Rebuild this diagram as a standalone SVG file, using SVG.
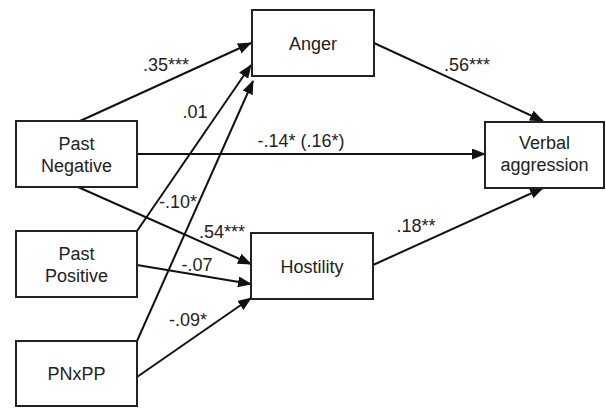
<svg xmlns="http://www.w3.org/2000/svg" width="606" height="408" viewBox="0 0 606 408">
<style>
.box{fill:#fff;stroke:#222;stroke-width:2}
.t{font-family:"Liberation Sans",Arial,sans-serif;font-size:18px;fill:#222;text-anchor:middle}
.e{stroke:#111;stroke-width:2;fill:none;marker-end:url(#ah)}
</style>
<defs>
<marker id="ah" markerUnits="userSpaceOnUse" markerWidth="14" markerHeight="12" refX="13" refY="5.5" orient="auto">
<path d="M0,0 L14,5.5 L0,11 Z" fill="#111"/>
</marker>
</defs>
<rect width="606" height="408" fill="#fff"/>
<g id="connectors">
<line class="e" x1="80" y1="121" x2="251" y2="43"/>
<line class="e" x1="137" y1="231" x2="251" y2="65"/>
<line class="e" x1="137" y1="341" x2="253" y2="81"/>
<line class="e" x1="137" y1="154" x2="485" y2="154"/>
<line class="e" x1="78" y1="187" x2="251" y2="264"/>
<line class="e" x1="137" y1="265" x2="251" y2="284"/>
<line class="e" x1="137" y1="377" x2="251" y2="298"/>
<line class="e" x1="374" y1="43" x2="543" y2="121"/>
<line class="e" x1="373" y1="265" x2="543" y2="188"/>
</g>
<g id="labels">
<text class="t" x="166" y="71">.35***</text>
<text class="t" x="195" y="118">.01</text>
<text class="t" x="178" y="208">-.10*</text>
<text class="t" x="222" y="238">.54***</text>
<text class="t" x="197" y="271">-.07</text>
<text class="t" x="188" y="326">-.09*</text>
<text class="t" x="301" y="147">-.14* (.16*)</text>
<text class="t" x="467" y="71">.56***</text>
<text class="t" x="416" y="232">.18**</text>
</g>
<g id="anger"><rect class="box" x="252" y="10" width="122" height="66"/><text class="t" x="313" y="50">Anger</text></g>
<g id="hostility"><rect class="box" x="251" y="233" width="122" height="66"/><text class="t" x="312" y="273">Hostility</text></g>
<g id="verbal"><rect class="box" x="485" y="122" width="119" height="66"/><text class="t" x="544.5" y="149">Verbal</text><text class="t" x="544.5" y="171">aggression</text></g>
<g id="pastneg"><rect class="box" x="16" y="121" width="121" height="66"/><text class="t" x="76.5" y="150">Past</text><text class="t" x="76.5" y="172">Negative</text></g>
<g id="pastpos"><rect class="box" x="16" y="231" width="121" height="66"/><text class="t" x="76.5" y="260">Past</text><text class="t" x="76.5" y="282">Positive</text></g>
<g id="pnxpp"><rect class="box" x="16" y="341" width="121" height="65"/><text class="t" x="76.5" y="380">PNxPP</text></g>
</svg>
